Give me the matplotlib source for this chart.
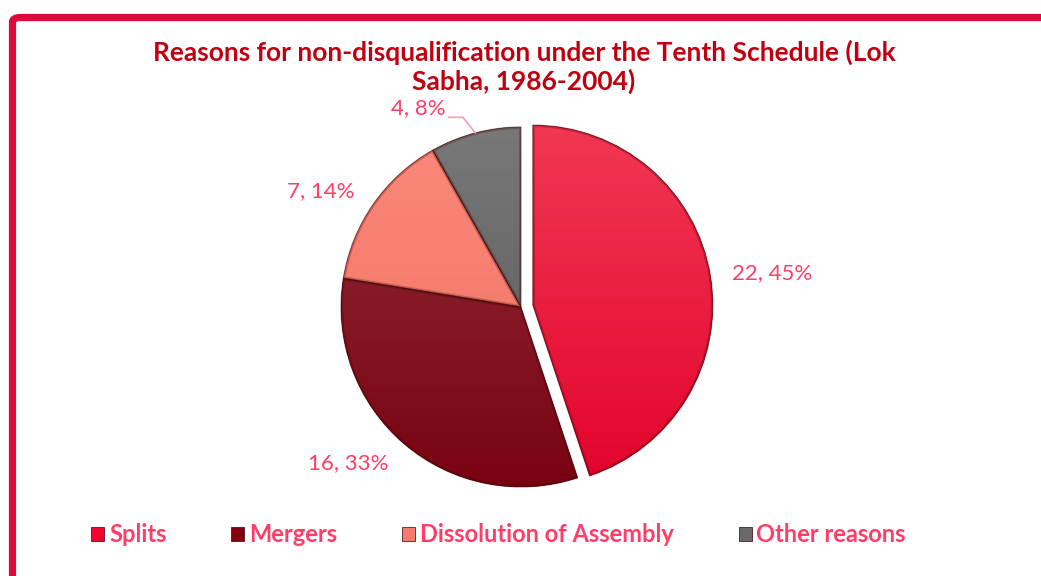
import numpy as np
import matplotlib.pyplot as plt
from matplotlib.patches import FancyBboxPatch, Rectangle, PathPatch
from matplotlib.colors import LinearSegmentedColormap

plt.rcParams['font.family'] = ['Lato', 'DejaVu Sans']

# data
reasons = ['Splits', 'Mergers', 'Dissolution of Assembly', 'Other reasons']
counts = [22, 16, 7, 4]

title = 'Reasons for non-disqualification under the Tenth Schedule (Lok\nSabha, 1986-2004)'

# slice colours (top, bottom of gradient)
grad_top = ['#F23A55', '#93303B', '#FB8A7C', '#7A7A7A']
grad_bot = ['#E2002A', '#78000F', '#F0705F', '#555555']
flat = ['#F0062F', '#85000F', '#F87A6C', '#6A6A6A']
label_col = '#FF3D66'

W, H = 1041, 576
fig = plt.figure(figsize=(W / 100, H / 100), dpi=100)
ax = fig.add_axes([0, 0, 1, 1])

cx, cy, R = 521, H - 307, 180
explode_px = 12
total = sum(counts)

wedges, _ = ax.pie(counts, center=(cx, cy), radius=R, startangle=90,
                   counterclock=False, colors=flat,
                   explode=[explode_px, 0, 0, 0],
                   wedgeprops=dict(edgecolor='none', linewidth=0))

# vertical gradient fill clipped to each wedge
for w, c0, c1 in zip(wedges, grad_top, grad_bot):
    cmap = LinearSegmentedColormap.from_list('g', [c1, c0])
    grad = np.linspace(0, 1, 256).reshape(-1, 1)
    im = ax.imshow(grad, cmap=cmap, origin='lower', aspect='auto',
                   extent=(cx - R - 20, cx + R + 20, cy - R - 20, cy + R + 20),
                   zorder=w.get_zorder() + 0.1)
    im.set_clip_path(w)
    # soft bevel outline on top
    ax.add_patch(PathPatch(w.get_path(), fill=False,
                           edgecolor=(0.25, 0, 0, 0.25), linewidth=3.0,
                           zorder=w.get_zorder() + 0.2, clip_path=w))
    ax.add_patch(PathPatch(w.get_path(), fill=False,
                           edgecolor=(0.2, 0, 0, 0.5), linewidth=0.8,
                           zorder=w.get_zorder() + 0.3))

# data labels
label_r = [1.12, 1.14, 1.13, 1.18]
label_shift = [0, 0, 0, 6]
for i, (w, n) in enumerate(zip(wedges, counts)):
    mid = (w.theta1 + w.theta2) / 2 + label_shift[i]
    rad = np.deg2rad(mid)
    off = explode_px if i == 0 else 0
    r = R * label_r[i] + off
    x = cx + r * np.cos(rad)
    y = cy + r * np.sin(rad)
    ha = 'left' if np.cos(rad) > 0 else 'right'
    pct = round(100 * n / total)
    ax.text(x, y, f'{n}, {pct}%', ha=ha, va='center', fontsize=16,
            color=label_col)
    if label_shift[i]:
        m = np.deg2rad((w.theta1 + w.theta2) / 2)
        ex, ey = cx + R * np.cos(m), cy + R * np.sin(m)
        ax.plot([x + 3, x + 17, ex], [y - 9, y - 9, ey], color='#F4A0B2',
                lw=1.2, zorder=5)

ax.set_xlim(0, W)
ax.set_ylim(0, H)
ax.set_aspect('equal')
ax.axis('off')

# title
fig.text(524 / W, 1 - 67 / H, title, ha='center', va='center', fontsize=19,
         fontweight='bold', color='#C00010', linespacing=1.2)

# legend
handles = [Rectangle((0, 0), 1, 1, facecolor=c, edgecolor='#40000a', lw=0.5)
           for c in flat]
leg = fig.legend(handles, reasons, loc='center', ncol=4, frameon=False,
                 bbox_to_anchor=(0.479, 1 - 535 / H), handlelength=0.55,
                 handleheight=0.55, handletextpad=0.2, columnspacing=2.75,
                 prop=dict(size=17, weight='bold'))
for t in leg.get_texts():
    t.set_color(label_col)

# red frame
top = 1 - 17.5 / H
frame = FancyBboxPatch((12.5 / W, -0.2), 1.2, top + 0.2,
                       boxstyle='round,pad=0,rounding_size=0.008',
                       transform=fig.transFigure, fill=False,
                       edgecolor='#DC0A3C', linewidth=5.2)
fig.patches.append(frame)

fig.savefig('out.png', dpi=100, facecolor='white')
